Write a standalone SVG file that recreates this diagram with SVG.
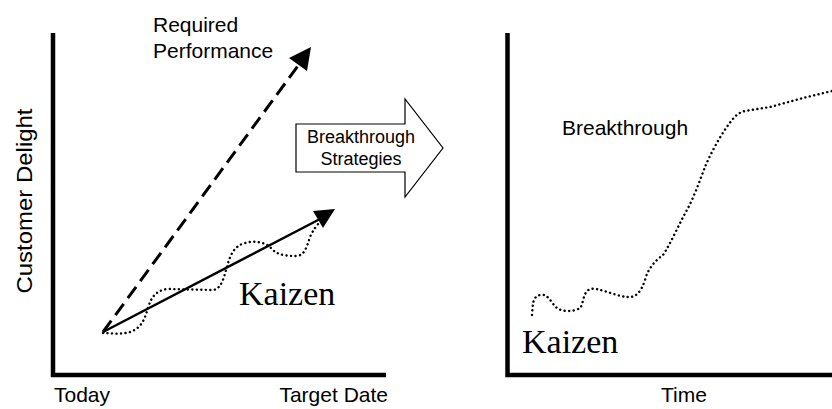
<svg xmlns="http://www.w3.org/2000/svg" width="832" height="409" viewBox="0 0 832 409">
<style>
.sans{font-family:"Liberation Sans",Arial,sans-serif;fill:#000}
.serif{font-family:"Liberation Serif","Times New Roman",serif;fill:#000}
.axis{stroke:#000;stroke-width:4.5;fill:none}
.dot{stroke:#000;stroke-width:2.4;fill:none;stroke-linecap:round;stroke-dasharray:0.1 4.4}
</style>
<rect width="832" height="409" fill="#fff"/>
<g id="left-chart">
  <path class="axis" d="M53,33 V375 H386"/>
  <text class="sans" font-size="21" x="54" y="402">Today</text>
  <text class="sans" font-size="21" x="388" y="402" text-anchor="end">Target Date</text>
  <text class="sans" font-size="22" transform="translate(32,201) rotate(-90)" text-anchor="middle" textLength="185" lengthAdjust="spacingAndGlyphs">Customer Delight</text>
</g>
<g id="connectors">
  <line x1="103" y1="332" x2="300" y2="63" stroke="#000" stroke-width="3" stroke-dasharray="14 7"/>
  <polygon points="311,47 289,58 307,71" fill="#000"/>
  <line x1="103" y1="332" x2="320" y2="219" stroke="#000" stroke-width="2.5"/>
  <polygon points="335,209 313,211 323,228" fill="#000"/>
  <path class="dot" d="M103,333 C110,333 120,335 130,332 C142,328 145,318 148,308 C151,298 155,291 167,289 L213,290 C222,289 224,276 227,267 C230,255 234,246 245,243 C255,240 266,243 270,247 C276,254 282,256 297,256 C305,255 307,246 310,237 C313,230 317,225 320,222"/>
  <path class="dot" d="M532,315 C533,305 532,297 540,295 C548,293 551,303 557,308 C562,312 574,312 580,308 C584,304 582,293 590,289 C598,287 615,296 627,297 C636,298 641,292 645,280 C648,268 656,260 663,255 C670,245 680,222 687,210 C694,197 700,180 705,167 C710,155 718,140 726,128 C732,120 736,113 745,111 L770,107 L803,98 L832,91"/>
</g>
<g id="kaizen-left">
  <text class="serif" font-size="34" x="239" y="305">Kaizen</text>
</g>
<g id="required-performance">
  <text class="sans" font-size="21" x="153" y="32">Required</text>
  <text class="sans" font-size="21" x="153" y="58">Performance</text>
</g>
<g id="breakthrough-strategies">
  <polygon points="296,124 405,124 405,99 443,148 405,197 405,172 296,172" fill="#fff" stroke="#000" stroke-width="1.2"/>
  <text class="sans" font-size="18" x="361" y="143" text-anchor="middle">Breakthrough</text>
  <text class="sans" font-size="18" x="361" y="165" text-anchor="middle">Strategies</text>
</g>
<g id="right-chart">
  <path class="axis" d="M507.5,33 V375 H832"/>
  <text class="sans" font-size="21" x="684" y="402" text-anchor="middle">Time</text>
  <text class="sans" font-size="21" x="562" y="135">Breakthrough</text>
  <text class="serif" font-size="34" x="522" y="353">Kaizen</text>
</g>
</svg>
